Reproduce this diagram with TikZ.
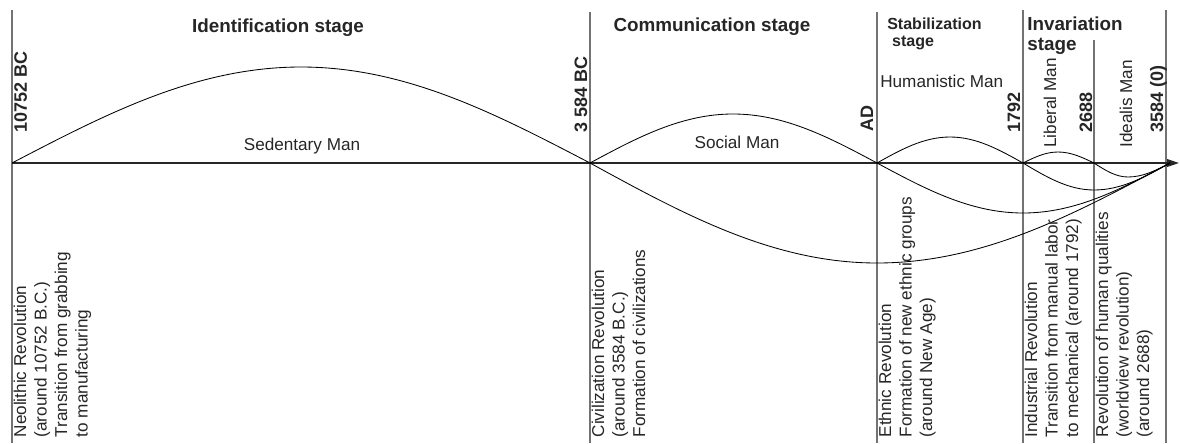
\documentclass[tikz,border=0pt]{standalone}
\usepackage{fontspec}
\setmainfont{Liberation Sans}
\usetikzlibrary{arrows.meta}

\begin{document}
\begin{tikzpicture}
  [x=0.025cm, y=-0.025cm,
  font=\fontsize{12.2}{14.6}\selectfont, text=black!85,
  border/.style={draw=black!55, line width=0.9pt},
  axis/.style={-{Triangle[length=8.5pt,width=5.5pt]}, line width=0.9pt, draw=black!85},
  wave/.style={line width=0.6pt, draw=black},
  stage/.style={font=\fontsize{13.4}{14.2}\selectfont\bfseries, inner sep=0pt},
  year/.style={font=\fontsize{12.8}{14}\selectfont\bfseries, rotate=90, anchor=base west, inner sep=0pt},
  man/.style={anchor=base, inner sep=0pt},
  rev/.style={rotate=90, anchor=north west, align=left, inner sep=1pt}]

  \useasboundingbox (0,0) rectangle (1180,443);

  % points on the time axis
  \coordinate (1) at (12,163);
  \coordinate (2) at (590,163);
  \coordinate (3) at (877,163);
  \coordinate (4) at (1023,163);
  \coordinate (5) at (1094,163);
  \coordinate (6) at (1166,163);
  \coordinate (tip) at (1170,163);
  \coordinate (end) at (1179,163);

  % stage borders
  \draw [border] (12,10) -- (12,443);
  \draw [border] (590,12) -- (590,443);
  \draw [border] (877,12) -- (877,443);
  \draw [border] (1023,10) -- (1023,443);
  \draw [border] (1094,40) -- (1094,443);
  \draw [border] (1166,10) -- (1166,443);

  \draw [axis] (1) -- (end);

  % crests and troughs of the waves
  \coordinate (h1) at (301,67);
  \coordinate (h2) at (733,114);
  \coordinate (h3) at (950,137);
  \coordinate (h4) at (1058,152);
  \coordinate (t2) at (877,263);
  \coordinate (t3) at (1023,213);
  \coordinate (t4) at (1094,190);
  \coordinate (t5) at (1128,177);

  \draw [wave] (1) sin (h1) cos (2);
  \draw [wave] (2) sin (h2) cos (3);
  \draw [wave] (3) sin (h3) cos (4);
  \draw [wave] (4) sin (h4) cos (5);

  \draw [wave] (2) sin (t2) cos (tip);
  \draw [wave] (3) sin (t3) cos (tip);
  \draw [wave] (4) sin (t4) cos (tip);
  \draw [wave] (5) sin (t5) cos (tip);

  % stages
  \node (s1) [stage, anchor=base] at (278,32) {Identification stage};
  \node (s2) [stage, anchor=base] at (712,31) {Communication stage};
  \node (s3) [stage, anchor=north west, align=left, font=\fontsize{11.4}{12}\selectfont\bfseries]
    at (887,18) {Stabilization\\\hspace*{3.5pt}stage};
  \node (s4) [stage, anchor=north west, align=left] at (1027,17) {Invariation\\stage};

  % dates
  \node (d1) [year] at (27,133) {10752 BC};
  \node (d2) [year] at (587,133) {3 584 BC};
  \node (d3) [year] at (873,132) {AD};
  \node (d4) [year] at (1020,133) {1792};
  \node (d5) [year] at (1092,133) {2688};
  \node (d6) [year] at (1163,133) {3584 (0)};

  % types of man
  \node (m1) [man] at (302,150) {Sedentary Man};
  \node (m2) [man] at (737,148) {Social Man};
  \node (m3) [man, anchor=base west] at (880,87) {Humanistic Man};
  \node (m4) [man, rotate=90, anchor=base west] at (1056,148) {Liberal Man};
  \node (m5) [man, rotate=90, anchor=base west] at (1132,148) {Idealis Man};

  % revolutions
  \node (r1) [rev] at (12,439) {Neolithic Revolution\\(around 10752 B.C.)\\Transition from grabbing\\to manufacturing};
  \node (r2) [rev] at (590,439) {Civilization Revolution\\(around 3584 B.C.)\\Formation of civilizations};
  \node (r3) [rev] at (877,439) {Ethnic Revolution\\Formation of new ethnic groups\\(around New Age)};
  \node (r4) [rev] at (1023,439) {Industrial Revolution\\Transition from manual labor\\to mechanical (around 1792)};
  \node (r5) [rev] at (1094,439) {Revolution of human qualities\\(worldview revolution)\\(around 2688)};

\end{tikzpicture}
\end{document}
